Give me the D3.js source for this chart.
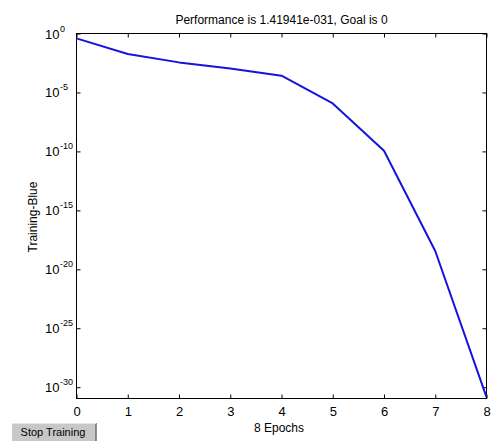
<!DOCTYPE html>
<html>
<head>
<meta charset="utf-8">
<script src="https://cdn.jsdelivr.net/npm/d3@7"></script>
<style>
  html, body { margin: 0; padding: 0; background: #fff; }
  svg { display: block; }
  text { font-family: "Liberation Sans", Arial, sans-serif; fill: #000; }
</style>
</head>
<body>
<svg id="chart" width="500" height="441"></svg>
<script>
// Training performance per epoch (mean squared error, log scale)
const epochs = [0, 1, 2, 3, 4, 5, 6, 7, 8];
const performance = [
  10 ** -0.41, 10 ** -1.74, 10 ** -2.45, 10 ** -2.96, 10 ** -3.58,
  10 ** -5.93, 10 ** -9.95, 10 ** -18.45, 1.41941e-31
];
const xTicks = [0, 1, 2, 3, 4, 5, 6, 7, 8];
const yTickExponents = [0, -5, -10, -15, -20, -25, -30];
const titleText = "Performance is 1.41941e-031, Goal is 0";
const xLabel = "8 Epochs";
const yLabel = "Training-Blue";
const buttonLabel = "Stop Training";

const svg = d3.select("#chart");
const plot = { left: 76.5, top: 33.5, right: 486.5, bottom: 398.5 };

const x = d3.scaleLinear().domain([0, 8]).range([plot.left, plot.right]);
const y = d3.scaleLog().domain([1.1e-31, 1]).range([plot.bottom, plot.top]);

// Box frame
svg.append("rect")
  .attr("x", plot.left).attr("y", plot.top)
  .attr("width", plot.right - plot.left).attr("height", plot.bottom - plot.top)
  .attr("fill", "none").attr("stroke", "#000").attr("stroke-width", 1);

// Axes with inward ticks on all four sides
const tickLen = 4;
const bottomAxis = d3.axisBottom(x).tickValues(xTicks).tickSize(-tickLen).tickPadding(8)
  .tickFormat(d3.format("d"));
const topAxis = d3.axisTop(x).tickValues(xTicks).tickSize(-tickLen).tickFormat("");
const yTickVals = yTickExponents.map(e => 10 ** e);
const leftAxis = d3.axisLeft(y).tickValues(yTickVals).tickSize(-tickLen).tickFormat("");
const rightAxis = d3.axisRight(y).tickValues(yTickVals).tickSize(-tickLen).tickFormat("");

function styleAxis(g) {
  g.select(".domain").remove();
  g.selectAll(".tick line").attr("stroke", "#000");
}

svg.append("g").attr("transform", `translate(0,${plot.bottom})`).call(bottomAxis).call(styleAxis)
  .selectAll("text").attr("font-size", 13).attr("font-family", "Liberation Sans, Arial, sans-serif")
  .attr("dy", "0.71em").attr("y", 8);
svg.append("g").attr("transform", `translate(0,${plot.top})`).call(topAxis).call(styleAxis);
svg.append("g").attr("transform", `translate(${plot.left},0)`).call(leftAxis).call(styleAxis);
svg.append("g").attr("transform", `translate(${plot.right},0)`).call(rightAxis).call(styleAxis);

// Y tick labels as powers of ten
const yLabels = svg.append("g");
yTickExponents.forEach(e => {
  const t = yLabels.append("text")
    .attr("x", 45).attr("y", y(10 ** e) + 5)
    .attr("font-size", 13);
  t.append("tspan").text("10");
  t.append("tspan").attr("dy", -7).attr("dx", 0.5).attr("font-size", 9).text(String(e));
});

// Performance curve
const line = d3.line().x((d, i) => x(epochs[i])).y(d => y(d));
svg.append("path")
  .datum(performance)
  .attr("d", line)
  .attr("fill", "none")
  .attr("stroke", "#1414dc")
  .attr("stroke-width", 2)
  .attr("stroke-linejoin", "round");

// Title and axis labels
svg.append("text").attr("x", (plot.left + plot.right) / 2).attr("y", 24)
  .attr("text-anchor", "middle").attr("font-size", 12).text(titleText);
svg.append("text").attr("x", 279).attr("y", 432)
  .attr("text-anchor", "middle").attr("font-size", 12).text(xLabel);
svg.append("text").attr("transform", "translate(37,217) rotate(-90)")
  .attr("text-anchor", "middle").attr("font-size", 12).text(yLabel);

// Stop button
const btn = svg.append("g");
btn.append("rect").attr("x", 12).attr("y", 423).attr("width", 84).attr("height", 20)
  .attr("fill", "#c8c8c8");
btn.append("line").attr("x1", 96).attr("x2", 96).attr("y1", 423).attr("y2", 441)
  .attr("stroke", "#6e6e6e").attr("stroke-width", 1.5);
btn.append("line").attr("x1", 12).attr("x2", 96).attr("y1", 423.5).attr("y2", 423.5)
  .attr("stroke", "#e6e6e6").attr("stroke-width", 1);
btn.append("text").attr("x", 53).attr("y", 436).attr("text-anchor", "middle")
  .attr("font-size", 11).text(buttonLabel);
</script>
</body>
</html>
